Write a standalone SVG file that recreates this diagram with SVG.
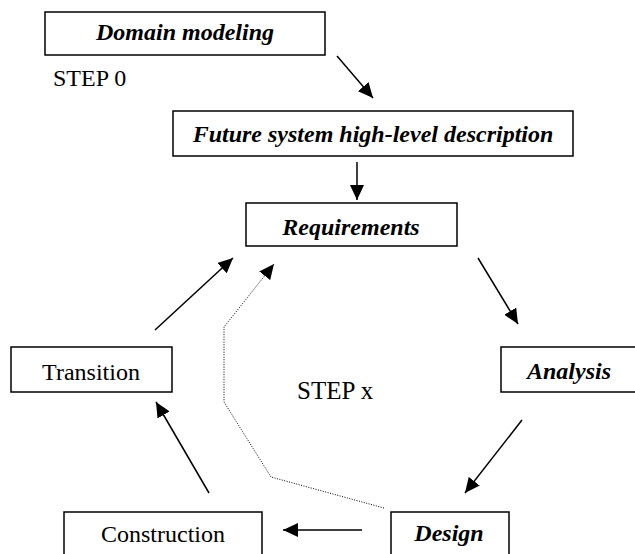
<svg xmlns="http://www.w3.org/2000/svg" width="635" height="554" viewBox="0 0 635 554">
<style>
.box{fill:#fff;stroke:#000;stroke-width:1.5}
.t{font-family:"Liberation Serif","Times New Roman",serif;font-size:24px;fill:#000}
.bi{font-weight:bold;font-style:italic}
.ln{stroke:#000;stroke-width:1.5;fill:none}
.dot{stroke:#000;stroke-width:1;fill:none;stroke-dasharray:1 1.5}
</style>
<defs>
<marker id="ah" markerUnits="userSpaceOnUse" markerWidth="16" markerHeight="14" refX="15" refY="7" orient="auto">
<path d="M0,0 L15,7 L0,14 z" fill="#000"/>
</marker>
</defs>
<rect width="635" height="554" fill="#fff"/>
<g id="connectors">
<line class="ln" x1="337" y1="56" x2="373" y2="98" marker-end="url(#ah)"/>
<line class="ln" x1="357" y1="162" x2="357" y2="200" marker-end="url(#ah)"/>
<line class="ln" x1="478" y1="258" x2="518" y2="324" marker-end="url(#ah)"/>
<line class="ln" x1="522" y1="420" x2="465" y2="493" marker-end="url(#ah)"/>
<line class="ln" x1="362" y1="530" x2="283" y2="530" marker-end="url(#ah)"/>
<line class="ln" x1="209" y1="493" x2="156" y2="402" marker-end="url(#ah)"/>
<line class="ln" x1="155" y1="330" x2="233" y2="258" marker-end="url(#ah)"/>
<polyline class="dot" points="384,508 271,477 224,402 224,327 274,264" marker-end="url(#ah)"/>
</g>
<g id="domain">
<rect class="box" x="45" y="12" width="280" height="43"/>
<text class="t bi" x="185" y="40" text-anchor="middle">Domain modeling</text>
</g>
<g id="step0"><text class="t" x="53" y="86">STEP 0</text></g>
<g id="future">
<rect class="box" x="173" y="111" width="400" height="45"/>
<text class="t bi" x="373" y="142" text-anchor="middle">Future system high-level description</text>
</g>
<g id="requirements">
<rect class="box" x="246" y="203" width="211" height="43"/>
<text class="t bi" x="351" y="235" text-anchor="middle">Requirements</text>
</g>
<g id="analysis">
<rect class="box" x="501" y="347" width="140" height="45"/>
<text class="t bi" x="569" y="379" text-anchor="middle">Analysis</text>
</g>
<g id="design">
<rect class="box" x="391" y="512" width="118" height="50"/>
<text class="t bi" x="449" y="541" text-anchor="middle">Design</text>
</g>
<g id="construction">
<rect class="box" x="64" y="512" width="198" height="50"/>
<text class="t" x="163" y="542" text-anchor="middle">Construction</text>
</g>
<g id="transition">
<rect class="box" x="11" y="347" width="161" height="45"/>
<text class="t" x="91" y="380" text-anchor="middle">Transition</text>
</g>
<g id="stepx"><text class="t" x="297" y="399" style="font-size:25px">STEP x</text></g>
</svg>
